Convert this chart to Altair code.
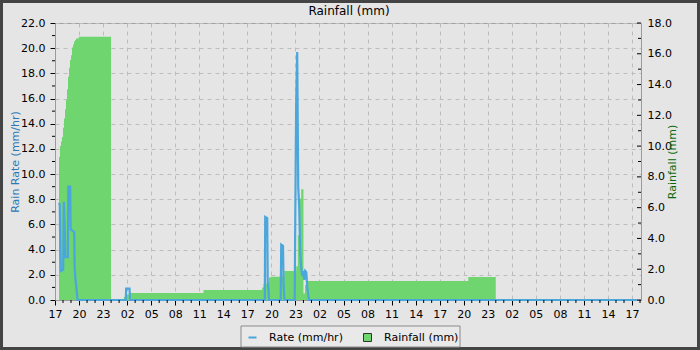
import altair as alt
import pandas as pd

# ---- data (hours after 17:00 on the first day) ----
rate_hours = [0.46, 0.59, 0.66, 0.72, 1.02, 1.10, 1.20, 1.29, 1.60, 1.66, 1.90, 1.95, 2.40, 2.45, 2.56, 2.70, 2.81,
              8.83, 8.88, 9.30, 9.36,
              26.18, 26.23, 26.48, 26.54, 26.64, 26.70,
              28.16, 28.23, 28.45, 28.52, 28.64,
              29.91, 29.97, 30.09, 30.22, 30.35, 30.47, 30.60, 30.72, 30.85, 30.97, 31.10, 31.22, 31.35, 31.47,
              31.60, 31.70,
              72.60]
rate_values = [7.7, 7.6, 4.0, 2.3, 2.4, 7.8, 6.1, 3.4, 3.4, 9.0, 9.0, 5.6, 5.4, 2.6, 1.6, 0.8, 0.0,
               0.0, 0.9, 0.9, 0.0,
               0.0, 6.6, 6.5, 1.4, 0.8, 0.0,
               0.0, 4.4, 4.3, 1.2, 0.0,
               0.0, 5.6, 15.5, 19.7, 9.0, 7.4, 3.7, 2.6, 1.9, 2.3, 1.6, 2.3, 2.2, 1.1,
               0.4, 0.0,
               0.0]

rain_hours = [0.50, 0.62, 0.75, 0.87, 1.00, 1.12, 1.25, 1.37, 1.50, 1.62, 1.75, 1.87, 2.00, 2.12, 2.25, 2.37,
              2.50, 2.62, 2.96,
              7.00, 8.60, 8.73, 8.86, 9.36, 18.53, 25.85, 26.02, 26.52, 26.70, 26.90, 28.60, 30.10, 30.30,
              30.50, 30.72,
              31.00, 31.20, 31.40, 51.57, 55.00, 72.60]
rain_values = [9.3, 10.0, 10.3, 10.6, 11.2, 11.8, 12.4, 13.0, 13.7, 14.5, 15.1, 15.6, 15.9, 16.4, 16.6, 16.8,
               16.9, 17.0, 17.1,
               0.0, 0.2, 0.28, 0.35, 0.45, 0.65, 0.82, 1.05, 1.19, 1.47, 1.51, 1.88, 2.2, 4.2,
               6.6, 7.2,
               0.43, 0.97, 1.23, 1.49, 0.0, 0.0]

x_major = list(range(0, 73, 3))
x_minor = [h for h in range(0, 74) if h % 3]
rate_ticks = list(range(0, 23, 2))
rate_minor = list(range(1, 22, 2))
rain_ticks = list(range(0, 19, 2))
rain_minor = list(range(1, 18, 2))

chart_title = "Rainfall (mm)"

# ---- styling ----
W, H = 586, 277
XMAX = 73.12
FONT = "DejaVu Sans"
BLUE = "#4ba6dc"
GREEN = "#6fd66f"
GRID = "#bdbdbd"
AXIS = "#9a9a9a"

rate_df = pd.DataFrame({"h": rate_hours, "rate": rate_values, "series": "Rate (mm/hr)"})
rain_df = pd.DataFrame({"h": rain_hours, "rain": rain_values, "series": "Rainfall (mm)"})

x_scale = alt.Scale(domain=[0, XMAX], nice=False, zero=False)
rate_scale = alt.Scale(domain=[0, 22], nice=False)
rain_scale = alt.Scale(domain=[0, 18], nice=False)

x_axis = alt.Axis(
    values=x_major,
    labelExpr="((17 + datum.value) % 24 < 10 ? '0' : '') + ((17 + datum.value) % 24)",
    tickSize=5, tickColor="#000", labelPadding=3,
    grid=True, gridDash=[4, 4], gridColor=GRID,
    domainColor=AXIS, labelFont=FONT, labelFontSize=11, labelColor="#000",
    labelFlush=False, labelOverlap=False, title=None,
)

rate_axis = alt.Axis(
    orient="left", values=rate_ticks, format=".1f",
    tickSize=5, tickColor="#000", labelPadding=5,
    grid=True, gridDash=[4, 4], gridColor=GRID, domainColor=AXIS,
    labelFont=FONT, labelFontSize=11, labelColor="#000",
    title="Rain Rate (mm/hr)", titleFont=FONT, titleFontSize=11, titleFontWeight="normal",
    titleColor="#2a78b8", titleAngle=270, titleX=-40, titleY=H / 2,
    titleAlign="center", titleBaseline="middle",
)

rain_axis = alt.Axis(
    orient="right", values=rain_ticks, format=".1f",
    tickSize=0, labelPadding=6, grid=False, domainColor=AXIS,
    labelFont=FONT, labelFontSize=11, labelColor="#000",
    title="Rainfall (mm)", titleFont=FONT, titleFontSize=11, titleFontWeight="normal",
    titleColor="#0b6b0b", titleAngle=270, titleX=31, titleY=H / 2,
    titleAlign="center", titleBaseline="middle",
)

rain_area = alt.Chart(rain_df).mark_area(interpolate="step-after", opacity=1).encode(
    x=alt.X("h:Q", scale=x_scale, axis=x_axis),
    y=alt.Y("rain:Q", scale=rain_scale, axis=rain_axis),
    color=alt.Color("series:N", scale=alt.Scale(domain=["Rainfall (mm)"], range=[GREEN]),
                    legend=alt.Legend(title=None, orient="none", legendX=307, legendY=309,
                                      symbolType="square", symbolSize=64,
                                      symbolStrokeColor="#333333", symbolStrokeWidth=1,
                                      labelFont=FONT, labelFontSize=11, labelColor="#000",
                                      labelOffset=11)),
)

rate_line = alt.Chart(rate_df).mark_line(strokeWidth=2.2).encode(
    x=alt.X("h:Q", scale=x_scale, axis=x_axis),
    y=alt.Y("rate:Q", scale=rate_scale, axis=rate_axis),
    color=alt.Color("series:N", scale=alt.Scale(domain=["Rate (mm/hr)"], range=[BLUE]),
                    legend=alt.Legend(title=None, orient="none", legendX=192, legendY=309,
                                      symbolType="stroke", symbolSize=64, symbolStrokeWidth=2,
                                      labelFont=FONT, labelFontSize=11, labelColor="#000",
                                      labelOffset=11)),
)

x_minor_ticks = alt.Chart(pd.DataFrame({"h": x_minor})).mark_rule(color="#000", strokeWidth=1).encode(
    x=alt.X("h:Q", scale=x_scale, axis=x_axis),
    y=alt.value(H), y2=alt.value(H + 3),
)

left_minor_ticks = alt.Chart(pd.DataFrame({"v": rate_minor})).mark_rule(color="#000", strokeWidth=1).encode(
    y=alt.Y("v:Q", scale=rate_scale, axis=None),
    x=alt.value(-3), x2=alt.value(0),
)

right_major_ticks = alt.Chart(pd.DataFrame({"v": rain_ticks})).mark_rule(color="#000", strokeWidth=1).encode(
    y=alt.Y("v:Q", scale=rain_scale, axis=None),
    x=alt.value(W - 4), x2=alt.value(W),
)

right_minor_ticks = alt.Chart(pd.DataFrame({"v": rain_minor})).mark_rule(color="#000", strokeWidth=1).encode(
    y=alt.Y("v:Q", scale=rain_scale, axis=None),
    x=alt.value(W - 3), x2=alt.value(W),
)

one = pd.DataFrame({"k": [0]})
legend_box = alt.Chart(one).mark_rect(fill="#e9e9e9", stroke="#8a8a8a", strokeWidth=1).encode(
    x=alt.value(186), x2=alt.value(405), y=alt.value(303), y2=alt.value(324),
)

outer_border = alt.Chart(one).mark_rect(fill="transparent", stroke="#444444", strokeWidth=3).encode(
    x=alt.value(-53.5), x2=alt.value(643.5), y=alt.value(-21.5), y2=alt.value(325.5),
)

title_text = alt.Chart(one).mark_text(
    text=chart_title, font=FONT, fontSize=12, color="#000", align="center", baseline="middle",
).encode(x=alt.value(294), y=alt.value(-12))

chart = alt.layer(
    outer_border, legend_box, rain_area, rate_line,
    x_minor_ticks, left_minor_ticks, right_major_ticks, right_minor_ticks, title_text,
).resolve_scale(
    y="independent", color="independent"
).properties(
    width=W, height=H,
    padding={"left": 55, "top": 23, "right": 59, "bottom": 50},
    autosize=alt.AutoSizeParams(type="none"),
).configure(
    background="#e5e5e5",
).configure_view(
    stroke="#a0a0a0", strokeWidth=1,
)

chart.save("out.html", embed_options={"renderer": "svg", "actions": False})
